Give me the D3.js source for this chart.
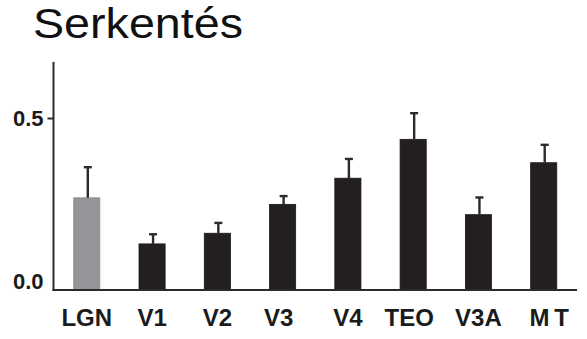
<!DOCTYPE html>
<html>
<head>
<meta charset="utf-8">
<script src="https://cdn.jsdelivr.net/npm/d3@7"></script>
<style>
  html, body { margin: 0; padding: 0; background: #fff; }
  svg { display: block; }
</style>
</head>
<body>
<svg id="chart" width="587" height="339"></svg>
<script>
// Response per visual area, with the upper edge of the error bar
const categories = ["LGN", "V1", "V2", "V3", "V4", "TEO", "V3A", "MT"];
const values     = [0.268, 0.134, 0.165, 0.249, 0.325, 0.438, 0.219, 0.370];
const errorTops  = [0.357, 0.162, 0.195, 0.273, 0.381, 0.514, 0.269, 0.422];
const barColors  = ["#939598", "#231f20", "#231f20", "#231f20", "#231f20", "#231f20", "#231f20", "#231f20"];
const yTicks     = [0.0, 0.5];
const yAxisMax   = 0.663;
const title      = "Serkentés";

const svg = d3.select("#chart");

const x0 = 53.5, x1 = 577;
const yBase = 290, yHalf = 118;

const x = d3.scaleBand()
  .domain(categories)
  .range([x0, x1])
  .paddingInner(0.6)
  .paddingOuter(0.31);

const y = d3.scaleLinear()
  .domain([0, 0.5])
  .range([yBase, yHalf]);

// Title
svg.append("text")
  .attr("x", 33)
  .attr("y", 38)
  .attr("font-family", "Liberation Sans, Arial, sans-serif")
  .attr("font-size", 42)
  .attr("textLength", 210)
  .attr("lengthAdjust", "spacingAndGlyphs")
  .attr("fill", "#111")
  .text(title);

// Bars
svg.append("g")
  .selectAll("rect")
  .data(categories)
  .join("rect")
  .attr("x", d => x(d))
  .attr("width", x.bandwidth())
  .attr("y", (d, i) => y(values[i]))
  .attr("height", (d, i) => y(0) - y(values[i]))
  .attr("fill", (d, i) => barColors[i])
  .attr("stroke", (d, i) => i === 0 ? "#8a8c8f" : "#1a1617")
  .attr("stroke-width", 0.8);

// Error bars (upper whisker with cap)
const err = svg.append("g").attr("stroke", "#2b2b2b");
err.selectAll("line.stem")
  .data(categories)
  .join("line")
  .attr("class", "stem")
  .attr("x1", d => x(d) + x.bandwidth() / 2 + 1)
  .attr("x2", d => x(d) + x.bandwidth() / 2 + 1)
  .attr("y1", (d, i) => y(values[i]))
  .attr("y2", (d, i) => y(errorTops[i]))
  .attr("stroke-width", 2.4);
err.selectAll("line.cap")
  .data(categories)
  .join("line")
  .attr("class", "cap")
  .attr("x1", d => x(d) + x.bandwidth() / 2 - 3)
  .attr("x2", d => x(d) + x.bandwidth() / 2 + 5)
  .attr("y1", (d, i) => y(errorTops[i]))
  .attr("y2", (d, i) => y(errorTops[i]))
  .attr("stroke-width", 2.4);

// Y axis
const yAxis = svg.append("g")
  .attr("transform", `translate(${x0},0)`)
  .call(d3.axisLeft(y).tickValues(yTicks).tickSize(6).tickFormat(d3.format(".1f")));
yAxis.select(".domain").remove();
yAxis.append("line")
  .attr("x1", 0).attr("x2", 0)
  .attr("y1", y(yAxisMax)).attr("y2", y(0) + 1)
  .attr("stroke", "#2b2b2b").attr("stroke-width", 2);
yAxis.selectAll(".tick line")
  .attr("stroke", "#2b2b2b").attr("stroke-width", 2)
  .attr("opacity", d => d === 0 ? 0 : 1);
yAxis.selectAll(".tick text")
  .attr("x", -10)
  .attr("dy", d => d === 0 ? "-0.05em" : "0.36em")
  .attr("font-family", "Liberation Sans, Arial, sans-serif")
  .attr("font-weight", "bold")
  .attr("font-size", 22)
  .attr("fill", "#1b1b1b");

// X axis
const xAxis = svg.append("g")
  .attr("transform", `translate(0,${yBase})`)
  .call(d3.axisBottom(x).tickSize(0).tickPadding(0));
xAxis.select(".domain").remove();
xAxis.append("line")
  .attr("x1", x0 - 1).attr("x2", x1)
  .attr("y1", 0).attr("y2", 0)
  .attr("stroke", "#2b2b2b").attr("stroke-width", 2);
xAxis.selectAll(".tick text")
  .attr("y", 36)
  .attr("dy", 0)
  .attr("dx", d => d === "MT" ? 8 : (d === "V3" || d === "TEO" ? -4 : 0))
  .attr("font-family", "Liberation Sans, Arial, sans-serif")
  .attr("font-weight", "bold")
  .attr("font-size", 24)
  .attr("fill", "#1b1b1b")
  .attr("letter-spacing", d => d === "MT" ? "5px" : "0px");
</script>
</body>
</html>
